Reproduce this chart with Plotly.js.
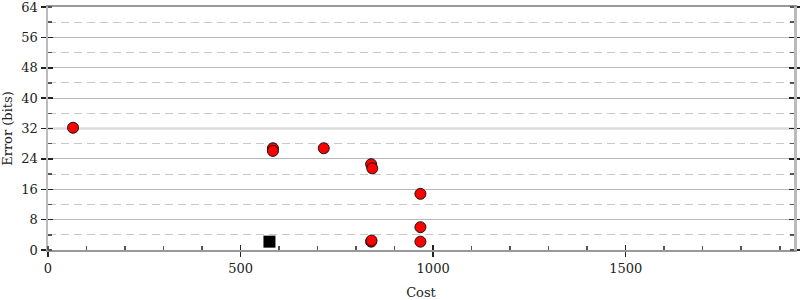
<!DOCTYPE html>
<html>
<head>
<meta charset="utf-8">
<script src="https://cdn.plot.ly/plotly-3.0.1.min.js"></script>
<style>html,body{margin:0;padding:0;background:#fff;}#chart{width:800px;height:300px;}</style>
</head>
<body>
<div id="chart"></div>
<script>
// Data
const pointCost = [65, 584, 584, 716, 839, 842, 967, 967, 967, 839, 840];
const pointError = [32.2, 26.8, 26.1, 26.8, 22.6, 21.5, 14.8, 6.0, 2.2, 2.2, 2.5];
const bestCost = [575];
const bestError = [2.2];
const refError = 32;
const xTickVals = [0, 500, 1000, 1500];
const xTickText = ["0", "500", "1000", "1500"];
const yTickVals = [0, 8, 16, 24, 32, 40, 48, 56, 64];
const yTickText = ["0", "8", "16", "24", "32", "40", "48", "56", "64"];

const font = {family: "DejaVu Serif", size: 13, color: "#222"};
const xr = [0, 1937];
const yr = [0, 64];

const traces = [
  {x: xr, y: [refError, refError], type: "scatter", mode: "lines",
   line: {color: "#dcdcdc", width: 2.5}, showlegend: false, hoverinfo: "skip"},
  {x: pointCost, y: pointError, type: "scatter", mode: "markers",
   marker: {color: "#ff0000", size: 11, line: {color: "#111", width: 1}},
   hoverinfo: "x+y", showlegend: false},
  {x: bestCost, y: bestError, type: "scatter", mode: "markers",
   marker: {color: "#000", size: 12, symbol: "square", line: {color: "#000", width: 0}},
   showlegend: false},
  {x: [0], y: [0], xaxis: "x2", yaxis: "y2", mode: "markers", marker: {opacity: 0}, showlegend: false, hoverinfo: "skip"}
];

const layout = {
  width: 800, height: 300,
  margin: {l: 48, r: 6, t: 7, b: 50},
  paper_bgcolor: "#fff", plot_bgcolor: "#fff",
  font: font,
  showlegend: false,
  xaxis: {
    range: xr, tickvals: xTickVals, ticktext: xTickText,
    ticks: "outside", ticklen: 5, tickwidth: 1.5, tickcolor: "#222",
    showgrid: false, zeroline: false,
    showline: true, linecolor: "#999", linewidth: 2, mirror: true,
    minor: {dtick: 100, ticks: "inside", ticklen: 4, tickcolor: "#555", showgrid: false},
    title: {text: "Cost", font: font, standoff: 14},
    tickfont: font, ticklabeloverflow: "allow"
  },
  yaxis: {
    range: yr, tickvals: yTickVals, ticktext: yTickText,
    ticks: "outside", ticklen: 5, tickwidth: 1.5, tickcolor: "#222",
    showgrid: true, gridcolor: "#b8b8b8", gridwidth: 1,
    zeroline: false,
    showline: true, linecolor: "#bbb", linewidth: 2.5, mirror: "ticks",
    minor: {dtick: 4, ticks: "inside", ticklen: 4, tickcolor: "#555", showgrid: true, gridcolor: "#c8c8c8", griddash: "8px,5px", gridwidth: 1},
    title: {text: "Error (bits)", font: font, standoff: 8},
    tickfont: font, ticklabeloverflow: "allow"
  },
  xaxis2: {
    overlaying: "x", range: xr, tickvals: xTickVals, ticktext: ["", "", "", ""],
    ticks: "inside", ticklen: 5, tickwidth: 1.5, tickcolor: "#222",
    showgrid: false, zeroline: false, showline: false, showticklabels: false
  },
  yaxis2: {
    overlaying: "y", range: yr, tickvals: yTickVals, ticktext: yTickText,
    ticks: "inside", ticklen: 5, tickwidth: 1.5, tickcolor: "#222", mirror: "ticks",
    showline: true, linecolor: "#bbb", linewidth: 2.5,
    showgrid: false, zeroline: false, showticklabels: false
  }
};

Plotly.newPlot("chart", traces, layout, {staticPlot: true});
</script>
</body>
</html>
